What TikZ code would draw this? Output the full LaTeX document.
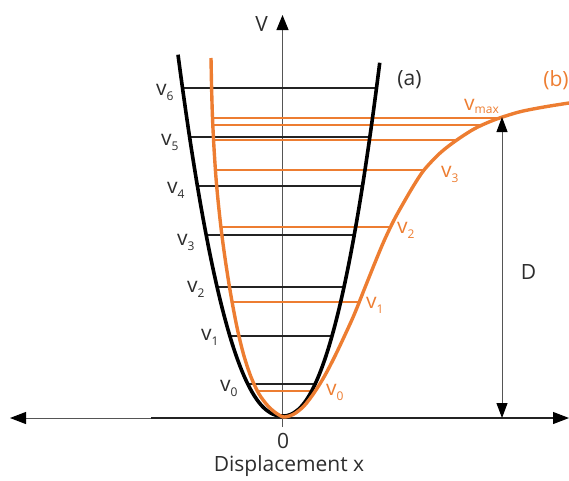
\documentclass[tikz,border=0pt]{standalone}
\usepackage{fontspec}
\setmainfont{Open Sans}
\usetikzlibrary{arrows.meta}
\definecolor{orng}{RGB}{237,125,49}
\definecolor{dk}{RGB}{35,35,35}
\definecolor{lbl}{RGB}{45,45,45}
\definecolor{ax}{RGB}{85,85,85}
\newcommand{\lsub}[1]{\raisebox{-5pt}{\fontsize{12}{12}\selectfont #1}}
\newcommand{\lsubm}[1]{\raisebox{-3pt}{\fontsize{12}{12}\selectfont #1}}
\begin{document}
\begin{tikzpicture}[x=1pt,y=-1pt,
  big/.style={font=\fontsize{21}{21}\selectfont, inner sep=0pt, text=lbl},
  lvl/.style={font=\fontsize{21}{21}\selectfont, inner sep=0pt, anchor=base west, text=lbl},
  olvl/.style={lvl, text=orng},
  blk/.style={dk, line width=1.2pt},
  org/.style={orng, line width=1.4pt}]
\useasboundingbox (0,0) rectangle (569,480);

% axes
\coordinate (xl) at (10,418);
\coordinate (xr) at (569,418);
\coordinate (yb) at (282.5,427);
\coordinate (yt) at (282.5,15);
\draw[ax, line width=1pt, {Triangle[length=16pt,width=12pt,color=black]}-{Triangle[length=16pt,width=12pt,color=black]}] (xl) -- (xr);
\coordinate (xm) at (151,418);
\coordinate (xe) at (553,418);
\draw[dk, line width=1.2pt] (xm) -- (xe);
\draw[ax, line width=1pt, -{Triangle[length=15pt,width=12pt,color=black]}] (yb) -- (yt);

% black harmonic levels
\foreach \y/\a/\b in {384/248/315, 336/230/332, 287/217.3/344, 235/206.4/354.2, 186/197.6/362.5, 137/189.8/369.8, 88/182.7/376.5}
  \draw[blk] (\a,\y) -- (\b,\y);

% orange anharmonic levels
\foreach \y/\a/\b in {391/257.6/313, 302/232/359, 227/221/390, 170/215.5/423, 140/213.6/457, 125/212.8/481, 118/212.5/501}
  \draw[org] (\a,\y) -- (\b,\y);

% black parabola
\draw[black, line width=3.6pt, line join=round]
  plot[domain=-1.045:-0.0001, samples=80] ({282.5+100*\x},{416-328*pow(-\x,2.2)})
  -- plot[domain=0.0001:1.035, samples=80] ({282.5+94*\x},{416-328*pow(\x,2.2)});

% orange Morse-like curve
\draw[orng, line width=3.4pt, line join=round] plot[smooth, tension=0.5] coordinates {
  (211,58) (211.6,88) (212.5,118) (214,148) (216,178) (218.5,205) (221.5,232)
  (225,258) (229,284) (233,307) (238,332) (244,356) (251,377) (259,394) (268,406)
  (276,413) (284,417)
  (294,414) (304,406) (314,393) (324,377) (334,358) (344,337) (354,315) (364,290)
  (374,265) (384,241) (394,220) (404,202) (414,185) (424,170) (439,154) (454,142)
  (474,129) (494,120) (519,112) (544,107) (569,103)};

% D arrow
\coordinate (dt) at (502,117);
\coordinate (db) at (502,418);
\draw[ax, line width=1pt, {Triangle[length=15pt,width=11pt,color=black]}-{Triangle[length=15pt,width=11pt,color=black]}] (dt) -- (db);

% labels
\node[big] (V) at (261.5,24.5) {V};
\node[big] (D) at (528.5,272) {D};
\node[big] (a) at (409.5,80) {(a)};
\node[big, text=orng] (b) at (556,80) {(b)};
\node[big] (zero) at (283,441) {0};
\node[big] (disp) at (289,466) {Displacement x};

\node[lvl] (b6) at (156,95) {v\lsub{6}};
\node[lvl] (b5) at (161,145) {v\lsub{5}};
\node[lvl] (b4) at (167,193) {v\lsub{4}};
\node[lvl] (b3) at (177,245) {v\lsub{3}};
\node[lvl] (b2) at (187,292) {v\lsub{2}};
\node[lvl] (b1) at (201,340) {v\lsub{1}};
\node[lvl] (b0) at (220,391) {v\lsub{0}};

\node[olvl] (o0) at (326,395) {v\lsub{0}};
\node[olvl] (o1) at (366,308) {v\lsub{1}};
\node[olvl] (o2) at (397,233) {v\lsub{2}};
\node[olvl] (o3) at (441,177) {v\lsub{3}};
\node[olvl] (om) at (464,110) {v\lsubm{max}};
\end{tikzpicture}
\end{document}
